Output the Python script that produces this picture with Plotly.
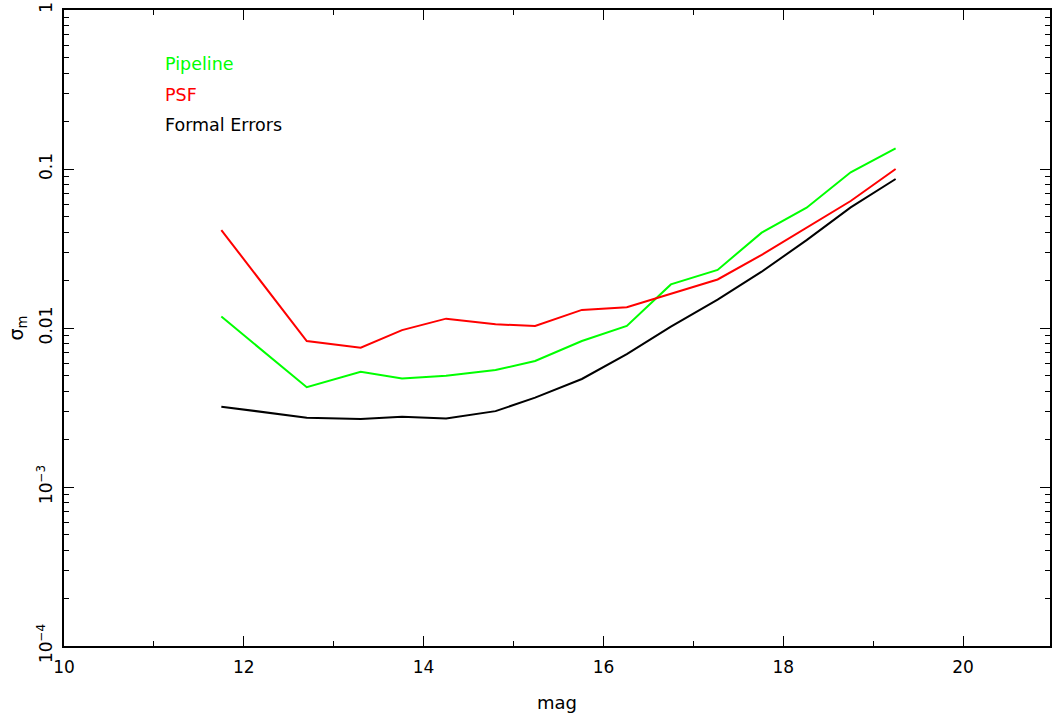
import plotly.graph_objects as go

mag = [11.75, 12.7, 13.3, 13.76, 14.25, 14.8, 15.24, 15.76, 16.26, 16.75, 17.27, 17.76, 18.26, 18.75, 19.25]
pipeline = [0.0118, 0.00424, 0.00531, 0.00482, 0.00501, 0.00544, 0.0062, 0.00828, 0.0103, 0.0188, 0.0232, 0.0398, 0.0571, 0.0953, 0.135]
psf = [0.0413, 0.00828, 0.00752, 0.0097, 0.01145, 0.01055, 0.0103, 0.0130, 0.01349, 0.0164, 0.0202, 0.0288, 0.0427, 0.0629, 0.100]
formal = [0.0032, 0.00273, 0.00268, 0.00277, 0.0027, 0.0030, 0.00365, 0.00478, 0.00686, 0.0102, 0.0151, 0.0226, 0.0357, 0.0574, 0.0865]

series_names = ["Pipeline", "PSF", "Formal Errors"]
series_colors = ["#00ff00", "#ff0000", "#000000"]

y_tickvals = [1e-4, 1e-3, 1e-2, 1e-1, 1]
y_ticktext = ["10<sup>−4</sup>", "10<sup>−3</sup>", "0.01", "0.1", "1"]
x_tickvals = [10, 12, 14, 16, 18, 20]
x_minor = [11, 13, 15, 17, 19, 21]
y_minor = [m * 10 ** e for e in range(-4, 0) for m in range(2, 10)]

FONT = "DejaVu Sans, Arial, sans-serif"

fig = go.Figure()
for name, vals, col in zip(series_names, [pipeline, psf, formal], series_colors):
    fig.add_trace(go.Scatter(x=mag, y=vals, mode="lines", name=name,
                             line=dict(color=col, width=2), showlegend=False))

# text legend
legend_y = [-0.340, -0.535, -0.723]
for name, col, ly in zip(series_names, series_colors, legend_y):
    fig.add_annotation(x=11.1, y=ly, xref="x", yref="y", text=name, showarrow=False,
                       xanchor="left", yanchor="middle",
                       font=dict(family=FONT, size=17.5, color=col))

fig.update_layout(
    width=1052, height=721,
    margin=dict(l=64, r=0, t=10, b=75),
    paper_bgcolor="white", plot_bgcolor="white",
    font=dict(family=FONT, size=17, color="black"),
    xaxis=dict(range=[10, 20.967], showgrid=False, zeroline=False,
               showline=True, linecolor="black", linewidth=1.5, mirror="ticks",
               ticks="inside", ticklen=10, tickwidth=1.2, tickcolor="black",
               tickmode="array", tickvals=x_tickvals, ticklabelstandoff=5,
               minor=dict(tickmode="array", tickvals=x_minor, ticks="inside", ticklen=5,
                          tickwidth=1.2, tickcolor="black", showgrid=False),
               title=dict(text="mag", standoff=20, font=dict(size=18)),
               tickfont=dict(size=17)),
    yaxis=dict(type="log", range=[-4, 0], showgrid=False, zeroline=False,
               showline=True, linecolor="black", linewidth=1.5, mirror="ticks",
               ticks="inside", ticklen=10, tickwidth=1.2, tickcolor="black",
               tickmode="array", tickvals=y_tickvals, ticktext=y_ticktext,
               tickangle=-90, ticklabelstandoff=3, ticklabeloverflow="allow",
               minor=dict(tickmode="array", tickvals=y_minor, ticks="inside", ticklen=5,
                          tickwidth=1.2, tickcolor="black", showgrid=False),
               title=dict(text="σ<sub>m</sub>", standoff=6, font=dict(size=19)),
               tickfont=dict(size=17)),
)

fig.write_html("out.html", config={"displayModeBar": False},
               post_script="document.body.style.margin='0';")
